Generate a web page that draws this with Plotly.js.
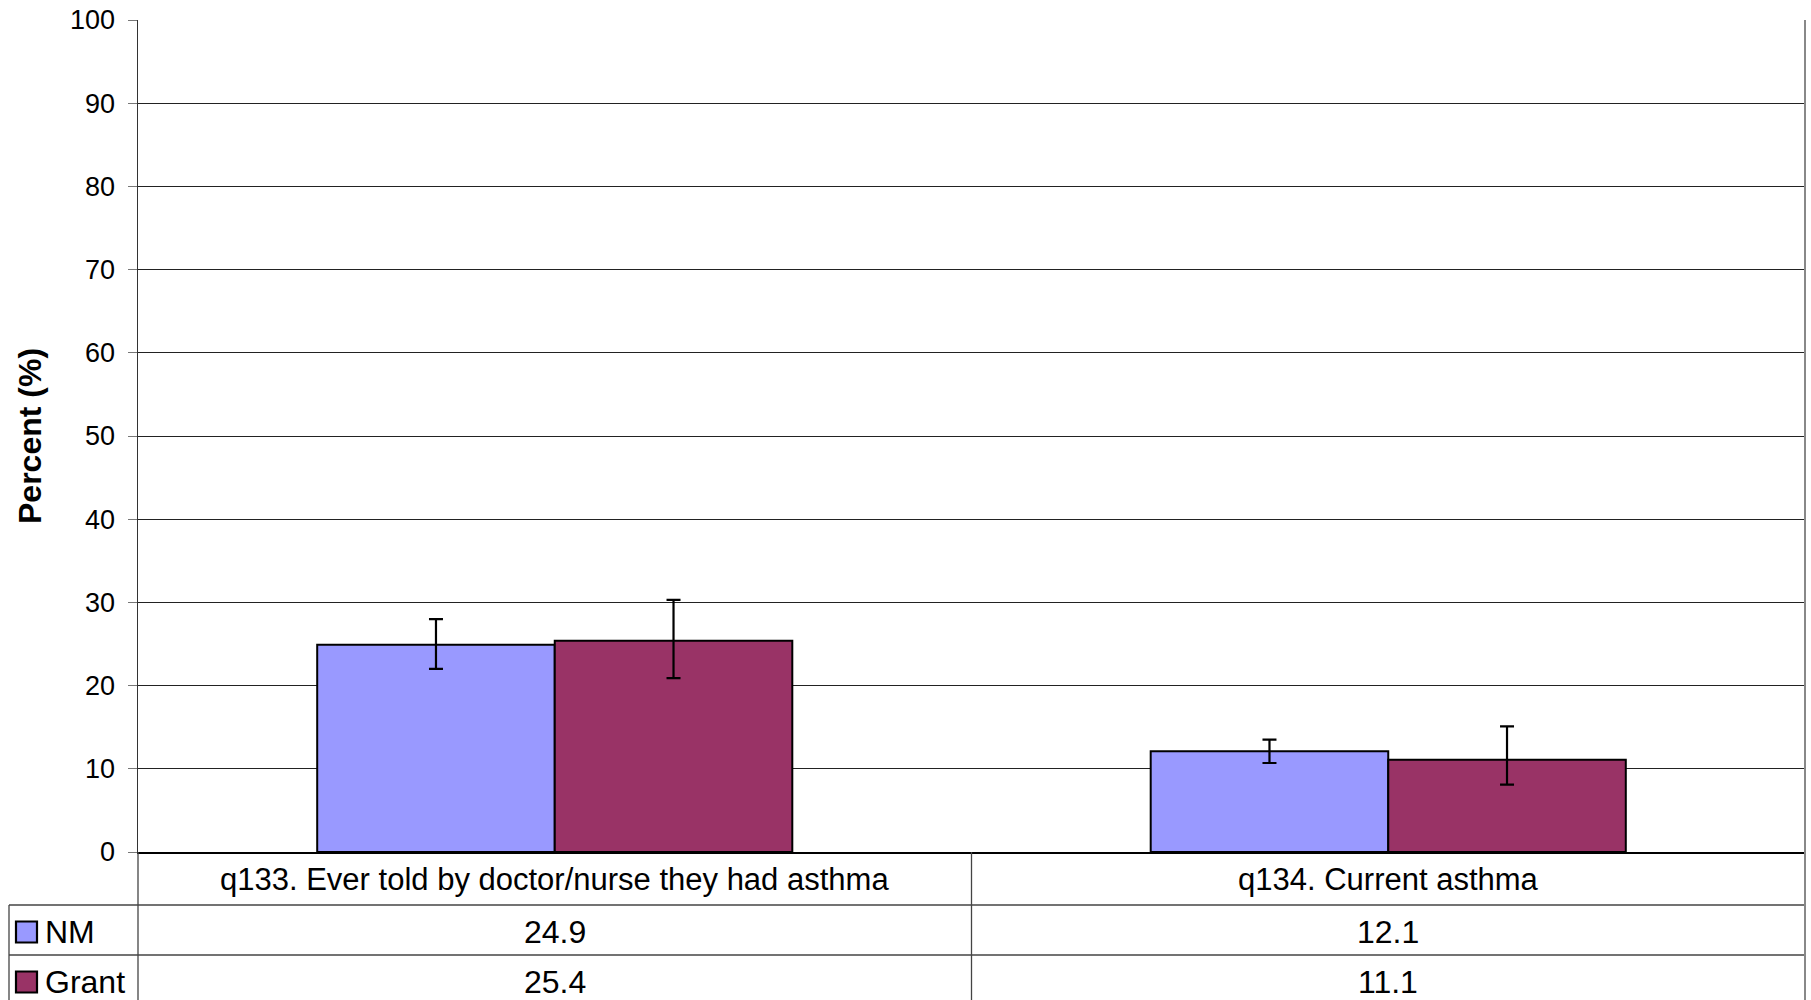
<!DOCTYPE html>
<html>
<head>
<meta charset="utf-8">
<script src="https://cdn.plot.ly/plotly-3.0.1.min.js"></script>
<style>html,body{margin:0;padding:0;background:#fff;}#chart{width:1811px;height:1000px;}</style>
</head>
<body>
<div id="chart"></div>
<script>
// ---- data ----
const categories = ["q133. Ever told by doctor/nurse they had asthma", "q134. Current asthma"];
const seriesNames = ["NM", "Grant"];
const nmValues = [24.9, 12.1];
const grantValues = [25.4, 11.1];
const nmErrPlus = [3.1, 1.4];
const nmErrMinus = [2.9, 1.4];
const grantErrPlus = [4.9, 4.0];
const grantErrMinus = [4.5, 3.0];
const yTickValues = [0, 10, 20, 30, 40, 50, 60, 70, 80, 90, 100];
const yAxisTitle = "Percent (%)";

// ---- styles / geometry ----
const seriesColors = ["#9999FF", "#993366"];
const FONT = "Liberation Sans, Arial, sans-serif";
const W = 1811, H = 1000;
const L = 138, R = 1805, T = 20, B = 852;
const px2x = p => (p - L) / (R - L);
const py2y = p => (B - p) / (B - T);

const values = [nmValues, grantValues];
const errP = [nmErrPlus, grantErrPlus];
const errM = [nmErrMinus, grantErrMinus];

const traces = seriesNames.map((name, i) => ({
  type: "bar",
  name: name,
  x: categories,
  y: values[i],
  marker: { color: seriesColors[i], line: { color: "#000", width: 2 } },
  error_y: { type: "data", symmetric: false, array: errP[i], arrayminus: errM[i],
             color: "#000", thickness: 2.2, width: 7 },
  hoverinfo: "skip"
}));

const shapes = [];
const annotations = [];
const rowLine = "#444";
[905, 955].forEach(py => shapes.push({ type: "line", xref: "paper", yref: "paper",
  x0: px2x(9), x1: px2x(R), y0: py2y(py), y1: py2y(py), line: { color: rowLine, width: 1.3 } }));
shapes.push({ type: "line", xref: "paper", yref: "paper", x0: px2x(9), x1: px2x(9),
  y0: py2y(905), y1: py2y(1010), line: { color: rowLine, width: 1.3 } });
shapes.push({ type: "line", xref: "paper", yref: "paper", x0: 0, x1: 0,
  y0: py2y(B), y1: py2y(1010), line: { color: rowLine, width: 1.3 } });
for (let k = 1; k < categories.length; k++) {
  shapes.push({ type: "line", xref: "x", yref: "paper", x0: k - 0.5, x1: k - 0.5,
    y0: py2y(B), y1: py2y(1010), line: { color: rowLine, width: 1.3 } });
}
shapes.push({ type: "line", xref: "paper", yref: "paper", x0: 1, x1: 1,
  y0: 1, y1: py2y(1010), line: { color: "#888", width: 2 } });

categories.forEach((c, k) => annotations.push({ xref: "x", yref: "paper", x: k, y: py2y(879),
  text: c, showarrow: false, xanchor: "center", yanchor: "middle",
  font: { family: FONT, size: 31, color: "#000" } }));

const rowCenters = [932, 982];
seriesNames.forEach((name, i) => {
  const cy = rowCenters[i];
  shapes.push({ type: "rect", xref: "paper", yref: "paper",
    x0: px2x(16), x1: px2x(37), y0: py2y(cy + 10.5), y1: py2y(cy - 10.5),
    fillcolor: seriesColors[i], line: { color: "#000", width: 2.2 } });
  annotations.push({ xref: "paper", yref: "paper", x: px2x(43), y: py2y(cy),
    text: name, showarrow: false, xanchor: "left", yanchor: "middle",
    font: { family: FONT, size: 32, color: "#000" } });
  values[i].forEach((v, k) => annotations.push({ xref: "x", yref: "paper", x: k, y: py2y(cy),
    text: v.toFixed(1), showarrow: false, xanchor: "center", yanchor: "middle",
    font: { family: FONT, size: 32, color: "#000" } }));
});

annotations.push({ xref: "paper", yref: "paper", x: px2x(30), y: 0.5, textangle: -90,
  text: "<b>" + yAxisTitle + "</b>", showarrow: false, xanchor: "center", yanchor: "middle",
  font: { family: FONT, size: 32, color: "#000" } });

const layout = {
  width: W, height: H,
  margin: { l: L, r: W - R, t: T, b: H - B, pad: 0 },
  paper_bgcolor: "#fff", plot_bgcolor: "#fff",
  showlegend: false,
  barmode: "group", bargap: 0.43, bargroupgap: 0,
  font: { family: FONT, color: "#000" },
  xaxis: { type: "category", range: [-0.5, categories.length - 0.5], showticklabels: false,
           showline: true, linecolor: "#000", linewidth: 1.5, ticks: "", showgrid: false,
           zeroline: false, fixedrange: true },
  yaxis: { range: [0, 100], tickvals: yTickValues, ticktext: yTickValues.map(String),
           ticks: "outside", ticklen: 9, tickcolor: "#777", tickwidth: 1,
           ticklabelstandoff: 7,
           showline: true, linecolor: "#333", linewidth: 1.5,
           showgrid: true, gridcolor: "#222", gridwidth: 1, zeroline: false,
           tickfont: { family: FONT, size: 27, color: "#000" },
           automargin: false, fixedrange: true },
  shapes: shapes,
  annotations: annotations
};

Plotly.newPlot("chart", traces, layout, { staticPlot: true, displayModeBar: false });
</script>
</body>
</html>
